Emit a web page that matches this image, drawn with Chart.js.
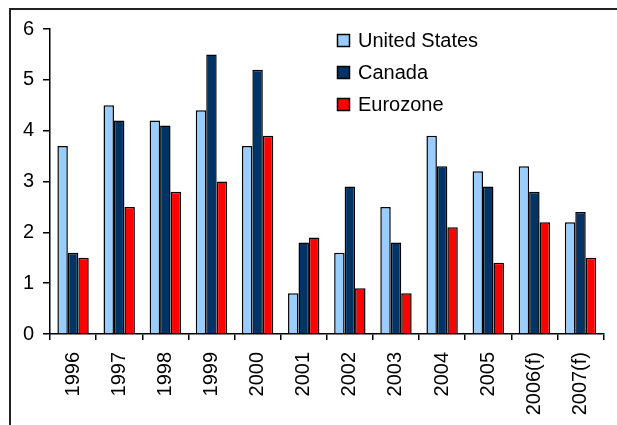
<!DOCTYPE html>
<html lang="en">
  <head>
    <meta charset="UTF-8" />
    <title>GDP growth</title>
    <script src="https://cdn.jsdelivr.net/npm/chart.js"></script>
    <style>
      html, body { margin: 0; padding: 0; background: #fff; overflow: hidden; }
      #wrap { width: 617px; height: 425px; position: relative; overflow: hidden; }
      .hline { position: absolute; left: 9px; top: 8px; width: 620px; height: 2px; background: #222; }
      .vline { position: absolute; left: 9px; top: 8px; width: 2px; height: 420px; background: #222; }
    </style>
  </head>
  <body>
    <div id="wrap">
      <canvas id="growthChart"></canvas>
      <div class="hline"></div>
      <div class="vline"></div>
    </div>
    <script>
      const years = ["1996", "1997", "1998", "1999", "2000", "2001", "2002", "2003", "2004", "2005", "2006(f)", "2007(f)"];
      const unitedStates = [3.7, 4.5, 4.2, 4.4, 3.7, 0.8, 1.6, 2.5, 3.9, 3.2, 3.3, 2.2];
      const canada = [1.6, 4.2, 4.1, 5.5, 5.2, 1.8, 2.9, 1.8, 3.3, 2.9, 2.8, 2.4];
      const eurozone = [1.5, 2.5, 2.8, 3.0, 3.9, 1.9, 0.9, 0.8, 2.1, 1.4, 2.2, 1.5];
      const yTicks = [0, 1, 2, 3, 4, 5, 6];

      const fontFamily = "'Liberation Sans', Arial, sans-serif";

      // legend sits inside the plot, top right, like the original
      const legendPlugin = {
        id: "innerLegend",
        afterDraw(chart) {
          const ctx = chart.ctx;
          ctx.save();
          ctx.font = "20px " + fontFamily;
          ctx.textBaseline = "middle";
          chart.data.datasets.forEach((ds, i) => {
            const y = 40 + i * 32;
            ctx.fillStyle = ds.backgroundColor;
            ctx.fillRect(337, y - 6, 13, 13);
            ctx.strokeStyle = "#000";
            ctx.lineWidth = 1.5;
            ctx.strokeRect(337.5, y - 5.5, 12, 12);
            ctx.fillStyle = "#000";
            ctx.fillText(ds.label, 358, y + 1);
          });
          ctx.restore();
        },
      };

      new Chart(document.getElementById("growthChart"), {
        type: "bar",
        data: {
          labels: years,
          datasets: [
            { label: "United States", data: unitedStates, backgroundColor: "#99CCFF" },
            { label: "Canada", data: canada, backgroundColor: "#003366" },
            { label: "Eurozone", data: eurozone, backgroundColor: "#FF0000" },
          ].map((d) => ({
            ...d,
            borderColor: "#000",
            borderWidth: 1.5,
            categoryPercentage: 0.68,
            barPercentage: 1,
          })),
        },
        options: {
          responsive: true,
          maintainAspectRatio: false,
          animation: false,
          layout: { padding: { left: 0, right: 12, top: 29, bottom: 0 } },
          plugins: { legend: { display: false }, tooltip: { enabled: false } },
          scales: {
            x: {
              afterFit: (scale) => { scale.height = 91; },
              grid: { drawOnChartArea: false, color: "#000", tickLength: 6, lineWidth: 1.5, offset: true },
              border: { color: "#000", width: 1.5 },
              ticks: {
                color: "#000",
                font: { family: fontFamily, size: 20 },
                maxRotation: 90,
                minRotation: 90,
                padding: 12,
              },
            },
            y: {
              min: 0,
              max: 6,
              afterFit: (scale) => { scale.width = 50; },
              afterBuildTicks: (axis) => { axis.ticks = yTicks.map((v) => ({ value: v })); },
              grid: { drawOnChartArea: false, color: "#000", tickLength: 7, lineWidth: 1.5 },
              border: { color: "#000", width: 1.5 },
              ticks: {
                color: "#000",
                font: { family: fontFamily, size: 20 },
                padding: 9,
              },
            },
          },
        },
        plugins: [legendPlugin],
      });
    </script>
  </body>
</html>
